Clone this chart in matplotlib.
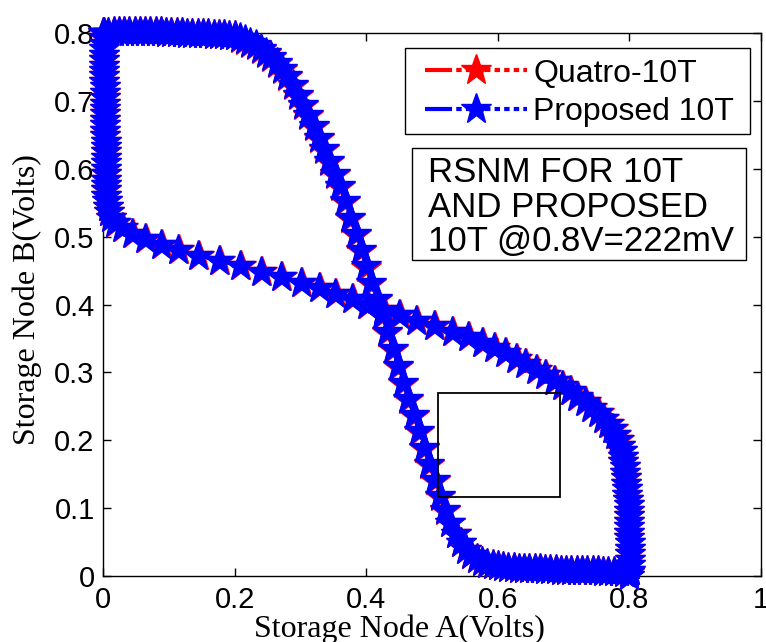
import matplotlib
matplotlib.use("Agg")
import matplotlib.pyplot as plt
from matplotlib.patches import Rectangle
from matplotlib.lines import Line2D

# Swept storage-node voltage (V), 8 mV steps
sweep = [0.000, 0.008, 0.016, 0.024, 0.032, 0.040, 0.048, 0.056, 0.064, 0.072,
         0.080, 0.088, 0.096, 0.104, 0.112, 0.120, 0.128, 0.136, 0.144, 0.152,
         0.160, 0.168, 0.176, 0.184, 0.192, 0.200, 0.208, 0.216, 0.224, 0.232,
         0.240, 0.248, 0.256, 0.264, 0.272, 0.280, 0.288, 0.296, 0.304, 0.312,
         0.320, 0.328, 0.336, 0.344, 0.352, 0.360, 0.368, 0.376, 0.384, 0.392,
         0.400, 0.408, 0.416, 0.424, 0.432, 0.440, 0.448, 0.456, 0.464, 0.472,
         0.480, 0.488, 0.496, 0.504, 0.512, 0.520, 0.528, 0.536, 0.544, 0.552,
         0.560, 0.568, 0.576, 0.584, 0.592, 0.600, 0.608, 0.616, 0.624, 0.632,
         0.640, 0.648, 0.656, 0.664, 0.672, 0.680, 0.688, 0.696, 0.704, 0.712,
         0.720, 0.728, 0.736, 0.744, 0.752, 0.760, 0.768, 0.776, 0.784, 0.792,
         0.800]

# Proposed 10T: node B while node A is swept
proposed_vb = [0.800, 0.800, 0.801, 0.801, 0.801, 0.801, 0.801, 0.801, 0.801, 0.801,
               0.801, 0.801, 0.800, 0.800, 0.800, 0.800, 0.799, 0.799, 0.799, 0.798,
               0.798, 0.797, 0.797, 0.797, 0.796, 0.795, 0.793, 0.790, 0.786, 0.782,
               0.777, 0.771, 0.764, 0.756, 0.747, 0.736, 0.723, 0.709, 0.694, 0.679,
               0.663, 0.646, 0.629, 0.611, 0.593, 0.575, 0.552, 0.528, 0.504, 0.480,
               0.456, 0.432, 0.408, 0.384, 0.360, 0.335, 0.310, 0.285, 0.261, 0.237,
               0.213, 0.189, 0.165, 0.141, 0.118, 0.097, 0.078, 0.062, 0.049, 0.039,
               0.031, 0.025, 0.021, 0.018, 0.016, 0.014, 0.013, 0.012, 0.012, 0.011,
               0.011, 0.010, 0.010, 0.010, 0.009, 0.009, 0.009, 0.008, 0.008, 0.008,
               0.008, 0.007, 0.007, 0.007, 0.007, 0.006, 0.006, 0.006, 0.006, 0.005,
               0.005]

# Proposed 10T: node A while node B is swept
proposed_va = [0.800, 0.801, 0.801, 0.801, 0.801, 0.801, 0.801, 0.800, 0.800, 0.800,
               0.800, 0.799, 0.799, 0.799, 0.798, 0.797, 0.796, 0.795, 0.795, 0.794,
               0.793, 0.791, 0.790, 0.788, 0.785, 0.782, 0.778, 0.773, 0.767, 0.760,
               0.752, 0.742, 0.732, 0.721, 0.710, 0.698, 0.685, 0.672, 0.658, 0.642,
               0.627, 0.611, 0.594, 0.576, 0.555, 0.530, 0.503, 0.476, 0.450, 0.425,
               0.401, 0.378, 0.353, 0.328, 0.301, 0.271, 0.240, 0.208, 0.176, 0.144,
               0.114, 0.088, 0.064, 0.044, 0.029, 0.018, 0.012, 0.009, 0.007, 0.006,
               0.005, 0.005, 0.004, 0.004, 0.004, 0.004, 0.004, 0.004, 0.004, 0.004,
               0.004, 0.003, 0.003, 0.003, 0.003, 0.003, 0.003, 0.003, 0.003, 0.003,
               0.003, 0.002, 0.002, 0.002, 0.002, 0.002, 0.002, 0.002, 0.002, 0.002,
               0.002]

# Quatro-10T: node B while node A is swept
quatro_vb = [0.800, 0.800, 0.801, 0.801, 0.801, 0.801, 0.801, 0.801, 0.801, 0.801,
             0.801, 0.801, 0.800, 0.800, 0.800, 0.800, 0.799, 0.799, 0.799, 0.798,
             0.798, 0.797, 0.797, 0.797, 0.796, 0.795, 0.7915, 0.7885, 0.7845, 0.7805,
             0.7755, 0.7695, 0.7625, 0.7545, 0.7455, 0.7345, 0.7215, 0.7075, 0.6925, 0.6775,
             0.6615, 0.6445, 0.6275, 0.6095, 0.5915, 0.5735, 0.5505, 0.5265, 0.5025, 0.4785,
             0.4545, 0.4305, 0.4065, 0.3825, 0.3585, 0.3335, 0.3085, 0.2835, 0.2595, 0.2355,
             0.2115, 0.1875, 0.1635, 0.1395, 0.1165, 0.0955, 0.078, 0.062, 0.049, 0.039,
             0.031, 0.025, 0.021, 0.018, 0.016, 0.014, 0.013, 0.012, 0.012, 0.011,
             0.011, 0.010, 0.010, 0.010, 0.009, 0.009, 0.009, 0.008, 0.008, 0.008,
             0.008, 0.007, 0.007, 0.007, 0.007, 0.006, 0.006, 0.006, 0.006, 0.005,
             0.005]

# Quatro-10T: node A while node B is swept
quatro_va = [0.800, 0.801, 0.801, 0.801, 0.801, 0.801, 0.801, 0.800, 0.800, 0.800,
             0.800, 0.799, 0.799, 0.799, 0.798, 0.797, 0.796, 0.795, 0.795, 0.794,
             0.793, 0.791, 0.790, 0.788, 0.785, 0.7835, 0.7795, 0.7745, 0.7685, 0.7615,
             0.7535, 0.7435, 0.7335, 0.7225, 0.7115, 0.6995, 0.6865, 0.6735, 0.6595, 0.6435,
             0.6285, 0.6125, 0.5955, 0.5775, 0.5565, 0.5315, 0.5045, 0.4775, 0.4515, 0.4265,
             0.4025, 0.3795, 0.3545, 0.3295, 0.3025, 0.2725, 0.2415, 0.2095, 0.1775, 0.1455,
             0.1155, 0.0895, 0.0655, 0.0455, 0.0305, 0.0195, 0.012, 0.009, 0.007, 0.006,
             0.005, 0.005, 0.004, 0.004, 0.004, 0.004, 0.004, 0.004, 0.004, 0.004,
             0.004, 0.003, 0.003, 0.003, 0.003, 0.003, 0.003, 0.003, 0.003, 0.003,
             0.003, 0.002, 0.002, 0.002, 0.002, 0.002, 0.002, 0.002, 0.002, 0.002,
             0.002]

series_labels = ["Quatro-10T", "Proposed 10T"]
series_colors = ["#ff0000", "#0000ff"]

x_ticks = [0, 0.2, 0.4, 0.6, 0.8, 1.0]
x_tick_labels = ["0", "0.2", "0.4", "0.6", "0.8", "1"]
y_ticks = [0, 0.1, 0.2, 0.3, 0.4, 0.5, 0.6, 0.7, 0.8]
y_tick_labels = ["0", "0.1", "0.2", "0.3", "0.4", "0.5", "0.6", "0.7", "0.8"]

# Largest square between the two lobes (left, bottom, width, height in volts)
snm_left, snm_bottom, snm_width, snm_height = 0.509, 0.116, 0.186, 0.154
note_text = "RSNM FOR 10T\nAND PROPOSED\n10T @0.8V=222mV"

sans = ["Liberation Sans", "DejaVu Sans"]
serif = ["Liberation Serif", "DejaVu Serif"]

fig = plt.figure(figsize=(7.66, 6.42), dpi=100)
ax = fig.add_axes([103 / 766, 66 / 642, 658 / 766, 543 / 642])

marker_kw = dict(linestyle="-.", linewidth=2, marker="*", markersize=23,
                 markeredgewidth=1.0, clip_on=False, zorder=3)

curves = [(quatro_vb, quatro_va), (proposed_vb, proposed_va)]
for (vb, va), color in zip(curves, series_colors):
    ax.plot(sweep, vb, color=color, markeredgecolor=color, **marker_kw)
    ax.plot(va, sweep, color=color, markeredgecolor=color, **marker_kw)

ax.add_patch(Rectangle((snm_left, snm_bottom), snm_width, snm_height,
                       fill=False, edgecolor="black", linewidth=1.3, zorder=4))

ax.set_xlim(0, 1)
ax.set_ylim(0, 0.8)
ax.set_xticks(x_ticks)
ax.set_xticklabels(x_tick_labels, family=sans, fontsize=21)
ax.set_yticks(y_ticks)
ax.set_yticklabels(y_tick_labels, family=sans, fontsize=21)
ax.tick_params(direction="in", length=6, width=1, top=True, right=True)
ax.tick_params(axis="x", pad=7)
ax.tick_params(axis="y", pad=6)
for spine in ax.spines.values():
    spine.set_linewidth(1)

ax.set_xlabel("Storage Node A(Volts)", family=serif, fontsize=23)
ax.xaxis.set_label_coords(0.451, -0.070)
ax.set_ylabel("Storage Node B(Volts)", family=serif, fontsize=23)
ax.yaxis.set_label_coords(-0.093, 0.51)

# Legend: frame drawn as its own box, entries placed inside it
ax.add_patch(Rectangle((0.459, 0.814), 0.524, 0.158, transform=ax.transAxes,
                       facecolor="white", edgecolor="black", linewidth=1, zorder=5))
legend_dash = (0, (6.5, 1, 1.3, 1, 1.3, 1, 1.3, 1, 1.3, 1, 1.3, 1, 1.3, 1, 1.3, 1))
handles = [Line2D([0], [0], color=c, markeredgecolor=c, linestyle=legend_dash,
                  linewidth=3, marker="*", markersize=23, markeredgewidth=1.0)
           for c in series_colors]
leg = ax.legend(handles, series_labels, loc="upper left",
                bbox_to_anchor=(0.489, 0.953), borderaxespad=0, borderpad=0,
                prop={"family": sans, "size": 23}, frameon=False,
                handlelength=3.2, handletextpad=0.2, labelspacing=0.26, numpoints=1)
leg.set_zorder(6)

ax.add_patch(Rectangle((0.4696, 0.582), 0.5076, 0.206, transform=ax.transAxes,
                       facecolor="white", edgecolor="black", linewidth=1, zorder=5))
ax.text(0.494, 0.7735, note_text, transform=ax.transAxes, ha="left", va="top",
        family=sans, fontsize=25, linespacing=1.06, zorder=6)

fig.savefig("out.png", dpi=100)
